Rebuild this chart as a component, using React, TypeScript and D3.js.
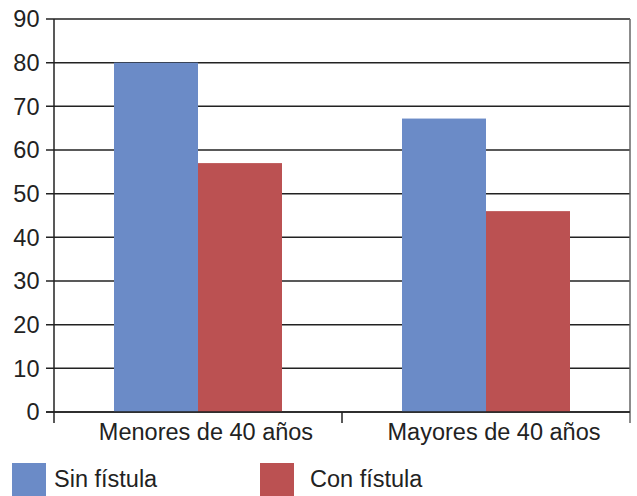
import React from "react";
import * as d3 from "d3";

const categories = ["Menores de 40 años", "Mayores de 40 años"];
const seriesNames = ["Sin fístula", "Con fístula"];
const sinFistula = [80, 67.2];
const conFistula = [57, 46];
const yTicks = [0, 10, 20, 30, 40, 50, 60, 70, 80, 90];
const colors = ["#6B8BC7", "#BB5152"];

const W = 637;
const H = 496;
const left = 54;
const right = 630;
const top = 19;
const bottom = 412;
const font = "'Liberation Sans', Arial, Helvetica, sans-serif";
const fs = 23.5;

export default function App() {
  const x0 = d3.scaleBand<string>().domain(categories).range([left, right]).paddingInner(0).paddingOuter(0);
  const y = d3.scaleLinear().domain([0, 90]).range([bottom, top]);
  const groupW = 168;
  const x1 = d3.scaleBand<string>().domain(seriesNames).range([0, groupW]).padding(0);
  const values = [sinFistula, conFistula];
  const tickXs = [left, ...categories.map((c) => (x0(c) as number) + x0.bandwidth())];

  return (
    <div style={{ position: "absolute", left: 0, top: 0 }}>
      <svg width={W} height={H} style={{ display: "block" }}>
        <rect width={W} height={H} fill="#fff" />
        {yTicks.map((t) => (
          <g key={t}>
            <line x1={left - 8} x2={right} y1={y(t)} y2={y(t)} stroke="#222" strokeWidth={1.5} />
            <text x={39.5} y={y(t)} dy="0.36em" textAnchor="end" fontFamily={font} fontSize={fs} fill="#222">
              {t}
            </text>
          </g>
        ))}
        {categories.map((c, ci) =>
          seriesNames.map((s, si) => {
            const bx = (x0(c) as number) + (x0.bandwidth() - groupW) / 2 + (x1(s) as number);
            const v = values[si][ci];
            return (
              <rect key={c + s} x={bx} y={y(v)} width={x1.bandwidth()} height={y(0) - y(v)} fill={colors[si]} />
            );
          })
        )}
        <line x1={left} x2={left} y1={top} y2={bottom + 11} stroke="#222" strokeWidth={1.5} />
        <line x1={right} x2={right} y1={top} y2={bottom + 11} stroke="#666" strokeWidth={1.5} />
        {tickXs.slice(1, -1).map((tx, i) => (
          <line key={i} x1={tx} x2={tx} y1={bottom} y2={bottom + 11} stroke="#222" strokeWidth={1.5} />
        ))}
        <line x1={left - 8} x2={right} y1={y(0)} y2={y(0)} stroke="#222" strokeWidth={1.5} />
        {categories.map((c) => (
          <text key={c} x={(x0(c) as number) + x0.bandwidth() / 2 + 8} y={440} textAnchor="middle" fontFamily={font} fontSize={fs} fill="#222">
            {c}
          </text>
        ))}
        {seriesNames.map((s, i) => (
          <g key={s}>
            <rect x={12 + i * 248} y={463} width={34} height={33} fill={colors[i]} />
            <text x={54 + i * 256} y={487} fontFamily={font} fontSize={fs} fill="#222">
              {s}
            </text>
          </g>
        ))}
      </svg>
    </div>
  );
}
